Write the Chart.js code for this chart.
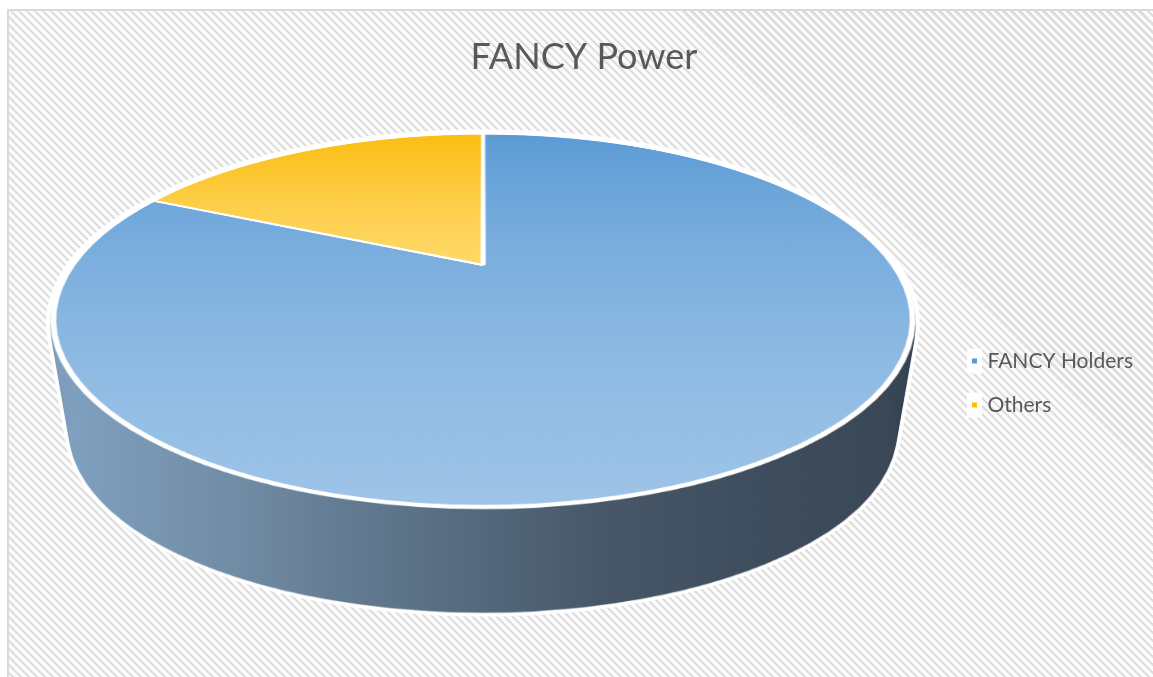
<!DOCTYPE html>
<html>
<head>
<meta charset="utf-8">
<title>FANCY Power</title>
<script src="https://cdn.jsdelivr.net/npm/chart.js@4.4.3/dist/chart.umd.min.js"></script>
<style>
  html, body { margin: 0; padding: 0; background: #fff; overflow: hidden; }
  #frame {
    position: absolute; left: 7px; top: 9px; width: 1160px; height: 680px;
    border-left: 2px solid #d9d9d9; border-top: 2px solid #d9d9d9;
    background: repeating-linear-gradient(45deg, #dedede 0px, #dedede 2.3px, #fbfbfb 2.3px, #fbfbfb 5.66px);
  }
  #power-chart { position: absolute; left: 0; top: 0; }
</style>
</head>
<body>
<div id="frame"></div>
<canvas id="power-chart" width="1153" height="677"></canvas>
<script>
const labels = ["FANCY Holders", "Others"];
const shares = [82, 18];

const legendColors = ["#5b9bd5", "#ffc000"];
const faceTop = ["#5b9bd5", "#fbbd12"];
const faceBottom = ["#9ec4e7", "#fed96a"];
const sideStops = [
  [0, "#80a0bf"],
  [0.2, "#718ca5"],
  [0.38, "#5f768c"],
  [0.64, "#485869"],
  [0.85, "#3e4d5d"],
  [1, "#3a4856"],
];

// 3D view of the pie: projected centre, radius, squash, perspective tilt, thickness
const view = {
  cx: 483,
  cy: 265,
  rx: 410,
  ry: 170,
  tilt: 0.2975,
  depth: 112,
  shrink: 0.045,
  border: 5,
  rim: 4,
  rimGap: 3,
};
const pivotY = view.cy + (view.ry * view.tilt) / (1 - view.tilt * view.tilt);
const halfWidth = view.rx / Math.sqrt(1 - view.tilt * view.tilt);

function makeCanvas(w, h) {
  const c = document.createElement("canvas");
  c.width = w;
  c.height = h;
  return c;
}

// flat (top-down) pie drawn with the chart's own arc elements
function renderFlatFace(arcs) {
  const size = 2 * (view.rx + 12);
  const flat = makeCanvas(size, size);
  const fctx = flat.getContext("2d");
  const r0 = arcs[0].outerRadius;
  const k = view.rx / r0;
  fctx.translate(size / 2, size / 2);
  fctx.scale(k, k);
  fctx.translate(-arcs[0].x, -arcs[0].y);
  arcs.forEach((arc, i) => {
    let minY = arc.y;
    let maxY = arc.y;
    for (let s = 0; s <= 64; s++) {
      const a = arc.startAngle + ((arc.endAngle - arc.startAngle) * s) / 64;
      const y = arc.y + r0 * Math.sin(a);
      minY = Math.min(minY, y);
      maxY = Math.max(maxY, y);
    }
    const g = fctx.createLinearGradient(0, minY, 0, maxY);
    g.addColorStop(0, faceTop[i]);
    g.addColorStop(1, faceBottom[i]);
    const proxy = Object.create(arc);
    proxy.options = Object.assign({}, arc.options, {
      backgroundColor: g,
      borderColor: "#ffffff",
      borderWidth: view.border / k,
    });
    arc.draw.call(proxy, fctx);
  });
  return flat;
}

// perspective warp, row by row
function warpFace(flat, w, h) {
  const face = makeCanvas(w, h);
  const tctx = face.getContext("2d");
  tctx.imageSmoothingQuality = "high";
  const half = flat.width / 2;
  const { cx, cy, rx, ry, tilt } = view;
  const toFlat = (y) => {
    const t = y - cy;
    return t / (ry + tilt * t);
  };
  const yTop = Math.floor(cy - ry / (1 + tilt) - 8);
  const yBottom = Math.ceil(cy + ry / (1 - tilt) + 8);
  for (let y = yTop; y < yBottom; y++) {
    const sy0 = Math.max(0, half + toFlat(y) * rx);
    const sy1 = Math.min(flat.height, half + toFlat(y + 1) * rx);
    if (sy1 - sy0 < 0.01) continue;
    const scale = 1 / (1 - tilt * toFlat(y + 0.5));
    tctx.drawImage(flat, 0, sy0, flat.width, sy1 - sy0, cx - half * scale, y, flat.width * scale, 1);
  }
  return face;
}

function tint(face, styleFn) {
  const c = makeCanvas(face.width, face.height);
  const cctx = c.getContext("2d");
  cctx.drawImage(face, 0, 0);
  cctx.globalCompositeOperation = "source-in";
  cctx.fillStyle = styleFn(cctx);
  cctx.fillRect(0, 0, c.width, c.height);
  return c;
}

function stamp(ctx, img, offset, grow) {
  const s = 1 - (view.shrink * offset) / view.depth;
  ctx.save();
  ctx.translate(view.cx, pivotY + offset);
  ctx.scale(s * (1 + grow / halfWidth), s * (1 + grow / 190));
  ctx.translate(-view.cx, -pivotY);
  ctx.drawImage(img, 0, 0);
  ctx.restore();
}

const tiltedPie = {
  id: "tiltedPie",
  beforeDatasetsDraw(chart) {
    const arcs = chart.getDatasetMeta(0).data;
    if (!arcs.length) {
      return;
    }
    const flat = renderFlatFace(arcs);
    const face = warpFace(flat, chart.width, chart.height);
    const white = tint(face, () => "#ffffff");
    const side = tint(face, (c) => {
      const g = c.createLinearGradient(view.cx - halfWidth, 0, view.cx + halfWidth, 0);
      sideStops.forEach(([at, color]) => g.addColorStop(at, color));
      return g;
    });
    const ctx = chart.ctx;
    for (let off = 0; off <= view.depth; off++) {
      stamp(ctx, white, off, view.rim);
    }
    for (let off = view.rimGap; off <= view.depth; off++) {
      stamp(ctx, side, off, 0);
    }
    ctx.drawImage(face, 0, 0);
    return false;
  },
};

// small white tiles behind the legend markers
const legendTiles = {
  id: "legendTiles",
  beforeDraw(chart) {
    const legend = chart.legend;
    if (!legend || !legend.legendHitBoxes) {
      return;
    }
    const ctx = chart.ctx;
    ctx.save();
    ctx.fillStyle = "rgba(255,255,255,0.9)";
    legend.legendHitBoxes.forEach((box) => {
      ctx.fillRect(box.left - 5, box.top - 2, 15, box.height + 4);
    });
    ctx.restore();
  },
};

Chart.defaults.font.family = "Lato, 'Open Sans', sans-serif";

new Chart(document.getElementById("power-chart"), {
  type: "pie",
  data: {
    labels,
    datasets: [
      {
        data: shares,
        backgroundColor: legendColors,
        borderColor: "#ffffff",
        borderWidth: 3,
      },
    ],
  },
  options: {
    responsive: false,
    animation: false,
    devicePixelRatio: 1,
    layout: {
      padding: { left: 25, right: 10 },
    },
    plugins: {
      title: {
        display: true,
        text: "FANCY Power",
        color: "#595959",
        font: { size: 36, weight: "normal" },
        padding: { top: 36, bottom: 10 },
      },
      legend: {
        position: "right",
        fullSize: false,
        labels: {
          color: "#595959",
          font: { size: 21 },
          boxWidth: 5,
          boxHeight: 5,
          padding: 23,
          generateLabels: () =>
            labels.map((text, i) => ({
              text,
              fillStyle: legendColors[i],
              strokeStyle: legendColors[i],
              lineWidth: 0,
              fontColor: "#595959",
              hidden: false,
              index: i,
            })),
        },
      },
      tooltip: { enabled: false },
    },
  },
  plugins: [tiltedPie, legendTiles],
});
</script>
</body>
</html>
